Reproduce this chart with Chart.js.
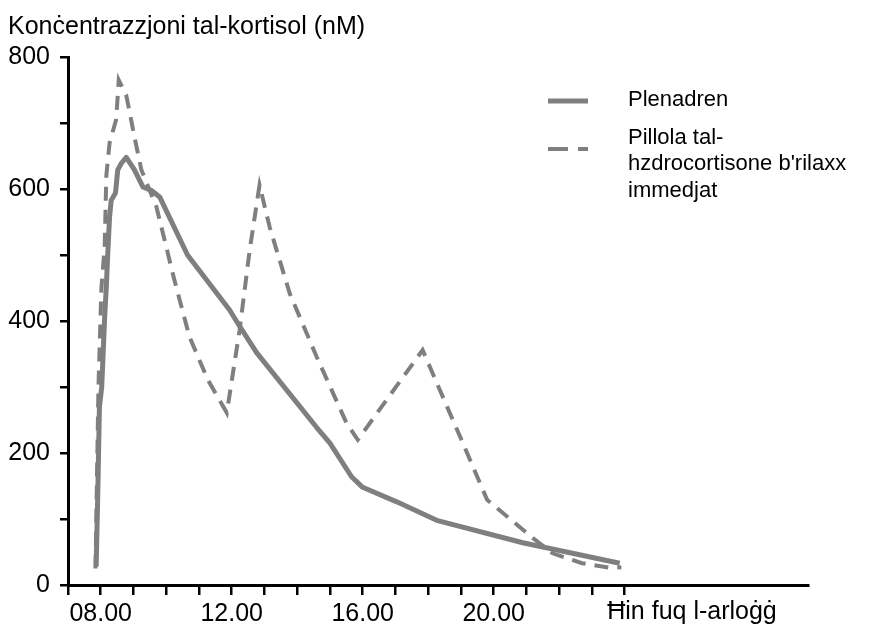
<!DOCTYPE html>
<html>
<head>
<meta charset="utf-8">
<script src="https://cdn.jsdelivr.net/npm/chart.js@4.4.0/dist/chart.umd.min.js"></script>
<style>
  html, body { margin: 0; padding: 0; background: #fff; }
  #canvasBox { width: 880px; height: 630px; }
</style>
</head>
<body>
<div id="canvasBox"><canvas id="myChart"></canvas></div>
<script>
// hours on the clock (x) and cortisol in nM (y)
const plenadrenHours = [7.86, 7.91, 7.96, 8.03, 8.12, 8.17, 8.22, 8.27, 8.32, 8.45, 8.52, 8.63, 8.78, 9.03, 9.29, 9.54, 9.8, 10.65, 11.93, 12.18, 12.76, 14.59, 15.0, 15.66, 16.0, 17.04, 18.26, 20.89, 23.85];
const plenadrenValues = [28, 140, 270, 300, 406, 452, 508, 558, 583, 594, 629, 639, 648, 629, 603, 598, 588, 500, 417, 397, 352, 239, 215, 164, 148, 126, 98, 64, 33];

const tabletHours = [7.84, 7.93, 8.02, 8.12, 8.17, 8.27, 8.47, 8.55, 8.78, 9.03, 9.24, 9.7, 10.25, 10.71, 11.27, 11.85, 12.24, 12.55, 12.85, 13.16, 13.77, 14.6, 15.51, 15.85, 17.83, 18.36, 19.06, 19.8, 21.2, 21.8, 22.7, 23.55, 23.9];
const tabletValues = [25, 300, 450, 512, 620, 670, 705, 765, 742, 679, 629, 573, 462, 376, 311, 261, 386, 508, 606, 542, 442, 345, 245, 220, 356, 295, 215, 129, 71, 48, 33, 26, 27];

const seriesNames = ['Plenadren', ['Pillola tal-', "hzdrocortisone b'rilaxx", 'immedjat']];
const xLabelHours = [8, 12, 16, 20];
const yLabelValues = [0, 200, 400, 600, 800];
const yTitle = 'Konċentrazzjoni tal-kortisol (nM)';
const xTitle = 'Ħin fuq l-arloġġ';

const FONT = '"Liberation Sans", Arial, sans-serif';
const GREY = '#7f7f7f';

function pairs(xs, ys) {
  return xs.map((x, i) => ({ x: x, y: ys[i] }));
}

// titles and the legend are drawn by hand (multi-line legend text)
const textPlugin = {
  id: 'texts',
  afterDraw(chart) {
    const ctx = chart.ctx;
    ctx.save();
    ctx.fillStyle = '#000';
    ctx.textBaseline = 'middle';
    ctx.font = '25px ' + FONT;
    ctx.textAlign = 'left';
    ctx.fillText(yTitle, 8, 27);
    ctx.textAlign = 'center';
    ctx.fillText(xTitle, 692, 612);

    // legend
    const ds = chart.data.datasets;
    ctx.font = '22px ' + FONT;
    ctx.textAlign = 'left';
    let rowY = [101, 149];
    let textY = [[100], [138, 164, 191]];
    ds.forEach((d, i) => {
      ctx.strokeStyle = d.borderColor;
      ctx.lineWidth = d.borderWidth;
      ctx.setLineDash(d.borderDash && d.borderDash.length ? [20, 10] : []);
      ctx.beginPath();
      ctx.moveTo(548, rowY[i]);
      ctx.lineTo(588, rowY[i]);
      ctx.stroke();
      const lines = Array.isArray(seriesNames[i]) ? seriesNames[i] : [seriesNames[i]];
      lines.forEach((t, j) => ctx.fillText(t, 628, textY[i][j]));
    });
    ctx.restore();
  }
};

let ctx = document.getElementById('myChart');

let data = {
  datasets: [
    {
      label: 'Plenadren',
      data: pairs(plenadrenHours, plenadrenValues),
      borderColor: GREY,
      borderWidth: 5,
      pointRadius: 0,
      tension: 0,
      borderJoinStyle: 'round',
      fill: false
    },
    {
      label: 'Pillola',
      data: pairs(tabletHours, tabletValues),
      borderColor: GREY,
      borderWidth: 4,
      borderDash: [14, 9],
      pointRadius: 0,
      tension: 0,
      fill: false
    }
  ]
};

new Chart(ctx, {
  type: 'line',
  data: data,
  plugins: [textPlugin],
  options: {
    responsive: true,
    maintainAspectRatio: false,
    animation: false,
    devicePixelRatio: 1,
    layout: { padding: { top: 57, right: 72, bottom: 0, left: 0 } },
    plugins: { legend: { display: false }, tooltip: { enabled: false } },
    scales: {
      x: {
        type: 'linear',
        min: 7,
        max: 29.6,
        border: { color: '#000', width: 3 },
        grid: { drawOnChartArea: false, drawTicks: true, tickLength: 10, color: '#000', lineWidth: 2.5 },
        ticks: {
          stepSize: 1,
          autoSkip: false,
          maxRotation: 0,
          padding: 4,
          color: '#000',
          font: { family: FONT, size: 25 },
          callback: v => xLabelHours.includes(v) ? String(v).padStart(2, '0') + '.00' : ''
        },
        afterBuildTicks: s => { s.ticks = s.ticks.filter(t => t.value <= 24); },
        afterFit: s => { s.height = 45; }
      },
      y: {
        min: 0,
        max: 800,
        border: { color: '#000', width: 3 },
        grid: { drawOnChartArea: false, drawTicks: true, tickLength: 8, color: '#000', lineWidth: 2.5 },
        ticks: {
          stepSize: 100,
          padding: 10,
          color: '#000',
          font: { family: FONT, size: 25 },
          callback: v => yLabelValues.includes(v) ? String(v) : ''
        },
        afterFit: s => { s.width = 68; }
      }
    }
  }
});
</script>
</body>
</html>
